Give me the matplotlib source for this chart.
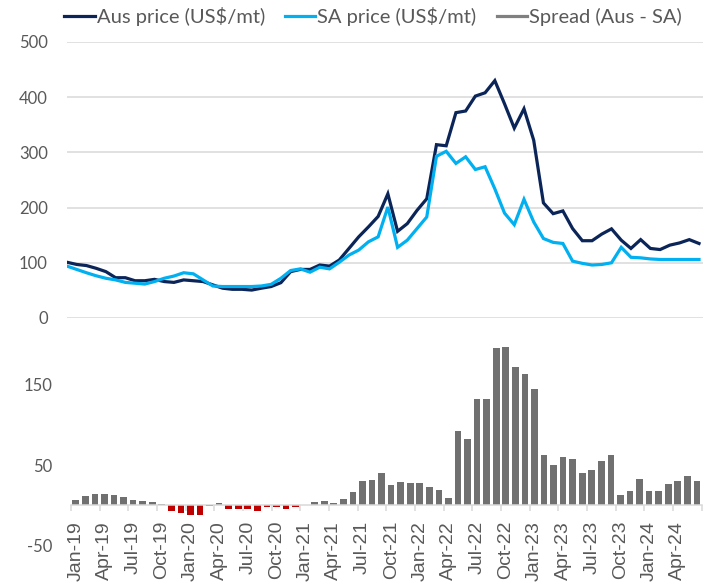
import numpy as np
import pandas as pd
import matplotlib
matplotlib.use("Agg")
import matplotlib.pyplot as plt
from matplotlib.lines import Line2D

plt.rcParams["axes.unicode_minus"] = False

# Monthly prices, Jan-19 .. Jun-24 (US$/mt)
months = pd.date_range("2019-01-01", periods=66, freq="MS").strftime("%b-%y").tolist()

aus_price = [101, 97, 95, 90, 84, 73, 73, 67.5, 67.5, 70,
             66, 64.5, 69, 67.5, 66, 60, 54, 52, 52, 50.6,
             54, 57, 64, 84, 88, 88, 96, 94, 105, 126,
             147, 165, 184, 225, 157, 171, 195, 216, 314, 312,
             372, 375, 402, 408, 430, 388, 344, 379, 322, 208.5,
             189, 194, 162, 140, 140, 152, 161.5, 141, 126, 142,
             126, 124, 132, 136, 142, 135]

sa_price = [94, 88, 82, 76.5, 72, 69, 64.5, 63, 61.5, 66,
            72, 76, 82, 80, 69, 58, 57, 57, 57, 57,
            58, 61, 72, 86, 89, 83, 92, 89, 101, 114,
            123, 138, 147, 201, 128, 141, 162, 183, 293, 302,
            280, 292, 269, 274, 234, 190, 169, 215, 174, 144,
            137, 135, 103, 99, 96, 97, 100, 128, 110, 109,
            107, 106, 106, 106, 106, 106]

spread = [6.7, 11, 14, 14, 13, 9.6, 5.8, 5, 4, 1,
          -7.5, -9.6, -12, -12, -1.7, 2, -5.4, -4.6, -5.4, -7.5,
          -3, -3, -5.4, -3, 0.5, 3.3, 4.6, 2.5, 8, 16.7,
          29.6, 31.7, 39.6, 24.6, 28.75, 27, 28, 22.5, 19, 8.3,
          92, 82.5, 133, 132.5, 196, 198, 173, 164, 145, 62,
          50, 60, 57, 40, 44, 55, 62, 13, 17, 32,
          17, 18, 26, 29.6, 36, 29.6]

AUS_COL = "#0b2559"
SA_COL = "#00b0f0"
BAR_COL = "#707070"
NEG_COL = "#c00000"
TXT_COL = "#595959"
GRID_COL = "#d9d9d9"

W, H = 712, 586
fig = plt.figure(figsize=(W / 100, H / 100), dpi=100)

x = np.arange(len(months))

# top panel: prices
ax1 = fig.add_axes([66.7 / W, 1 - 318 / H, (702.7 - 66.7) / W, (318 - 42) / H])
ax1.plot(x, aus_price, color=AUS_COL, lw=2.3, solid_joinstyle="miter")
ax1.plot(x, sa_price, color=SA_COL, lw=2.3, solid_joinstyle="miter")
ax1.set_xlim(-0.03, 65.38)
ax1.set_ylim(0, 500)
ax1.set_yticks(range(0, 501, 100))
ax1.set_xticks([])
ax1.yaxis.grid(True, color=GRID_COL, lw=1.1)
ax1.set_axisbelow(True)
for s in ax1.spines.values():
    s.set_visible(False)
ax1.tick_params(axis="y", length=0, pad=13.5, labelsize=12, labelcolor=TXT_COL)
for lab in ax1.get_yticklabels():
    lab.set_fontfamily("Lato")

# bottom panel: spread bars
ax2 = fig.add_axes([71 / W, 1 - 545 / H, (701.7 - 71) / W, (545 - 330) / H])
cols = [BAR_COL if v >= 0 else NEG_COL for v in spread]
ax2.bar(x, spread, width=0.7, color=cols)
ax2.set_xlim(-0.5, 65.5)
ax2.set_ylim(-50, 218.75)
ax2.set_yticks([-50, 50, 150])
for side in ["top", "right", "left"]:
    ax2.spines[side].set_visible(False)
ax2.spines["bottom"].set_position(("data", 0))
ax2.spines["bottom"].set_color(GRID_COL)
ax2.spines["bottom"].set_linewidth(1.1)
ax2.tick_params(axis="y", length=0, pad=13.5, labelsize=12, labelcolor=TXT_COL)
for lab in ax2.get_yticklabels():
    lab.set_fontfamily("Lato")

ax2.set_xticks(np.arange(-0.5, 66, 3))
ax2.set_xticklabels([])
ax2.set_xticks(x[::3], minor=True)
ax2.set_xticklabels(months[::3], minor=True, rotation=90,
                    fontfamily="Liberation Sans", fontsize=14, color=TXT_COL)
ax2.tick_params(axis="x", which="major", length=4.5, width=1.1, color=GRID_COL)
ax2.tick_params(axis="x", which="minor", length=0, pad=11.5)

# legend
handles = [Line2D([], [], color=AUS_COL, lw=2.3),
           Line2D([], [], color=SA_COL, lw=2.3),
           Line2D([], [], color="#808080", lw=2.3)]
labels = ["Aus price (US$/mt)", "SA price (US$/mt)", "Spread (Aus - SA)"]
leg = fig.legend(handles, labels, loc="center", bbox_to_anchor=(373 / W, 1 - 17 / H),
                 ncol=3, frameon=False, handlelength=1.5, handletextpad=0.1,
                 columnspacing=1.0, prop={"family": "Lato", "size": 14.5})
for t in leg.get_texts():
    t.set_color(TXT_COL)

fig.savefig("out.png", dpi=100)
